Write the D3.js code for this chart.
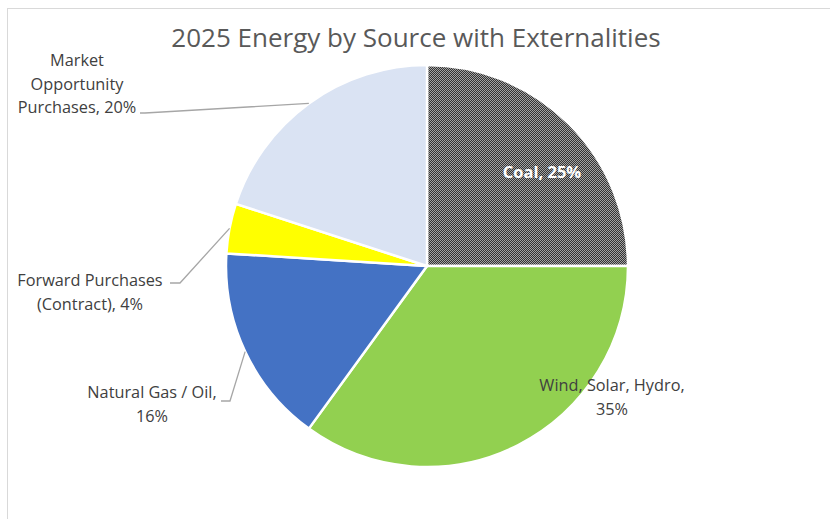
<!DOCTYPE html>
<html>
<head>
<meta charset="utf-8">
<script src="https://cdn.jsdelivr.net/npm/d3@7"></script>
<style>
  body { margin: 0; background: #fff; }
  svg text { font-family: "Open Sans", "Noto Sans", sans-serif; }
</style>
</head>
<body>
<div id="chart-area"></div>
<script>
// data
var sources = ["Coal", "Wind, Solar, Hydro", "Natural Gas / Oil", "Forward Purchases (Contract)", "Market Opportunity Purchases"];
var shares = [25, 35, 16, 4, 20];
var labelLines = [
  ["Coal, 25%"],
  ["Wind, Solar, Hydro,", "35%"],
  ["Natural Gas / Oil,", "16%"],
  ["Forward Purchases", "(Contract), 4%"],
  ["Market", "Opportunity", "Purchases, 20%"]
];
var colors = ["url(#checker)", "#92d050", "#4472c4", "#ffff00", "#dae3f3"];

var width = 830, height = 519;
var cx = 427, cy = 266, radius = 201;

// label layout (text anchor centre, first line baseline) and leader elbow
var labelPos = [
  {x: 542, y: 178, elbow: null, color: "#fff", bold: true},
  {x: 612, y: 391, elbow: null},
  {x: 152, y: 398, elbow: [[230, 401], [221, 401]]},
  {x: 90, y: 286, elbow: [[180, 283], [170, 283]]},
  {x: 77, y: 66, elbow: [[145, 113], [140, 113]]}
];

var svg = d3.select("#chart-area").append("svg")
  .attr("width", width)
  .attr("height", height);

var defs = svg.append("defs");
var pat = defs.append("pattern")
  .attr("id", "checker")
  .attr("patternUnits", "userSpaceOnUse")
  .attr("width", 2).attr("height", 2);
pat.append("rect").attr("width", 2).attr("height", 2).attr("fill", "#333333");
pat.append("rect").attr("x", 1).attr("y", 0).attr("width", 1).attr("height", 1).attr("fill", "#a3a3a3");
pat.append("rect").attr("x", 0).attr("y", 1).attr("width", 1).attr("height", 1).attr("fill", "#a3a3a3");

// chart area border
svg.append("rect")
  .attr("x", 7.5).attr("y", 8.5)
  .attr("width", 900).attr("height", 600)
  .attr("fill", "none")
  .attr("stroke", "#d9d9d9");

svg.append("text")
  .attr("x", 416).attr("y", 47)
  .attr("text-anchor", "middle")
  .attr("font-size", 26)
  .attr("fill", "#595959")
  .text("2025 Energy by Source with Externalities");

var pie = d3.pie().sort(null).value(d => d);
var arcs = pie(shares);
var arc = d3.arc().innerRadius(0).outerRadius(radius);

var g = svg.append("g").attr("transform", "translate(" + cx + "," + cy + ")");

g.selectAll("path.slice").data(arcs).enter()
  .append("path")
  .attr("class", "slice")
  .attr("d", arc)
  .attr("fill", (d, i) => colors[i])
  .attr("stroke", "#fff")
  .attr("stroke-width", 2.5)
  .attr("stroke-linejoin", "round");

// leader lines
arcs.forEach((d, i) => {
  var p = labelPos[i];
  if (!p.elbow) return;
  var mid = (d.startAngle + d.endAngle) / 2;
  var start = [cx + radius * Math.sin(mid), cy - radius * Math.cos(mid)];
  var pts = [start].concat(p.elbow);
  svg.append("path")
    .attr("d", d3.line()(pts))
    .attr("fill", "none")
    .attr("stroke", "#a6a6a6")
    .attr("stroke-width", 1.3);
});

// labels
labelLines.forEach((lines, i) => {
  var p = labelPos[i];
  var t = svg.append("text")
    .attr("text-anchor", "middle")
    .attr("font-size", p.bold ? 16.5 : 16.3)
    .attr("font-weight", p.bold ? "bold" : "normal")
    .attr("fill", p.color || "#404040");
  lines.forEach((s, j) => {
    t.append("tspan")
      .attr("x", p.x)
      .attr("y", p.y + j * 23.5)
      .text(s);
  });
});
</script>
</body>
</html>
